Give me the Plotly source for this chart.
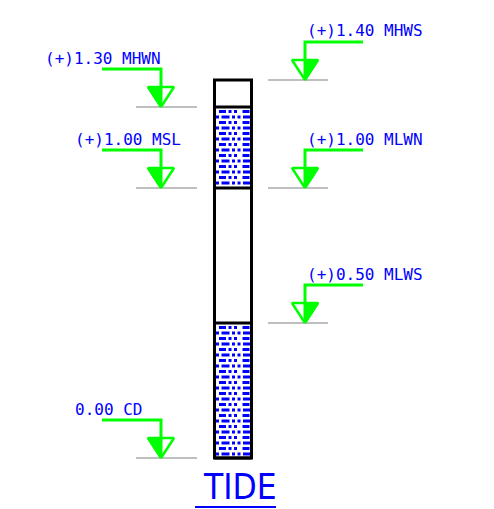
import numpy as np
import plotly.graph_objects as go

# tide levels (m above chart datum)
levels = [1.40, 1.30, 1.00, 1.00, 0.50, 0.00]
level_names = ["MHWS", "MHWN", "MSL", "MLWN", "MLWS", "CD"]
level_values = ["(+)1.40", "(+)1.30", "(+)1.00", "(+)1.00", "(+)0.50", "0.00"]
level_side = ["right", "left", "left", "right", "right", "left"]

# water-hatched bands on the tide staff (from level, to level)
bands = [("MHWN", "MLWN"), ("MLWS", "CD")]

title = "TIDE"

# ---- drawing setup (x in page pixels, y in metres) ----
W, H = 494, 509
OFF = 8                  # page body margin
PX = 1 / 270.0           # metres per pixel
Y0 = 458                 # page pixel row of 0.00 CD
ymax = (Y0 - OFF) * PX
ymin = (Y0 - (H + OFF)) * PX

BLUE = "#0000ff"
GREEN = "#00ff00"
GRAY = "#808080"

col_x0, col_x1 = 214.5, 251.5
label_x = {"MHWN": 43, "MSL": 73, "CD": 73}
lvl = dict(zip(level_names, levels))

fig = go.Figure()
shapes = []
annotations = []

# hatch rows inside the bands
for top_name, bot_name in bands:
    top, bot = lvl[top_name], lvl[bot_name]
    rows = np.arange(top - 4.5 * PX, bot + 1.5 * PX, -5.5 * PX)
    for i, yy in enumerate(rows):
        fig.add_trace(go.Scatter(
            x=[col_x0 + 1.5, col_x1 - 1.5], y=[yy, yy], mode="lines",
            line=dict(color=BLUE, width=2.8,
                      dash="0px,3px,7px,2.5px,3px,2.5px,3px,2.5px"
                      if i % 2 == 0 else "3px,2.5px,8px,2.5px,3px,2.5px"),
            hoverinfo="skip",
        ))

# staff outline and divider lines
shapes.append(dict(type="rect", xref="x", yref="y", x0=col_x0, x1=col_x1,
                   y0=0, y1=max(levels), line=dict(color="black", width=3)))
for top_name, bot_name in bands:
    for name in (top_name, bot_name):
        shapes.append(dict(type="line", xref="x", yref="y", x0=col_x0, x1=col_x1,
                           y0=lvl[name], y1=lvl[name], line=dict(color="black", width=3)))

# level markers
for val, name, txt, side in zip(levels, level_names, level_values, level_side):
    if side == "left":
        gx0, gx1, vx = 136, 197, 161
        hx0, hx1 = 102, vx
        tx = label_x[name]
        fill_sign = -1
    else:
        gx0, gx1, vx = 268, 328, 305
        hx0, hx1 = vx, 363
        tx = 305
        fill_sign = 1
    # reference line
    fig.add_trace(go.Scatter(x=[gx0, gx1], y=[val, val], mode="lines",
                             line=dict(color=GRAY, width=1.2), hoverinfo="skip"))
    ytop_line = val + 38 * PX
    ytri = val + 20 * PX
    # leader
    fig.add_trace(go.Scatter(x=[hx0, vx, vx] if side == "left" else [hx1, vx, vx],
                             y=[ytop_line, ytop_line, val],
                             mode="lines", line=dict(color=GREEN, width=3),
                             hoverinfo="skip"))
    # half-filled triangle
    fig.add_trace(go.Scatter(x=[vx, vx + fill_sign * 13, vx, vx],
                             y=[val, ytri, ytri, val], mode="lines",
                             fill="toself", fillcolor=GREEN,
                             line=dict(color=GREEN, width=2), hoverinfo="skip"))
    fig.add_trace(go.Scatter(x=[vx, vx - 13, vx + 13, vx], y=[val, ytri, ytri, val],
                             mode="lines", line=dict(color=GREEN, width=2.5),
                             hoverinfo="skip"))
    annotations.append(dict(x=tx, y=ytop_line - 0.5 * PX, xref="x", yref="y",
                            text=f"{txt} {name}", showarrow=False,
                            xanchor="left", yanchor="bottom",
                            font=dict(family="DejaVu Sans Mono", size=16, color=BLUE)))

# title with underline
annotations.append(dict(x=240, y=(Y0 - 509) * PX, xref="x", yref="y", text=title,
                        showarrow=False, xanchor="center", yanchor="bottom",
                        font=dict(family="DejaVu Sans Condensed, DejaVu Sans, sans-serif",
                                  size=35, color=BLUE)))
shapes.append(dict(type="line", xref="x", yref="y", x0=195, x1=276,
                   y0=(Y0 - 507) * PX, y1=(Y0 - 507) * PX,
                   line=dict(color=BLUE, width=2)))

fig.update_layout(
    width=W, height=H,
    margin=dict(l=0, r=0, t=0, b=0),
    plot_bgcolor="white", paper_bgcolor="white",
    showlegend=False,
    shapes=shapes,
    annotations=annotations,
    xaxis=dict(range=[OFF, W + OFF], visible=False, fixedrange=True),
    yaxis=dict(range=[ymin, ymax], visible=False, fixedrange=True),
)

fig.write_html("out.html")
